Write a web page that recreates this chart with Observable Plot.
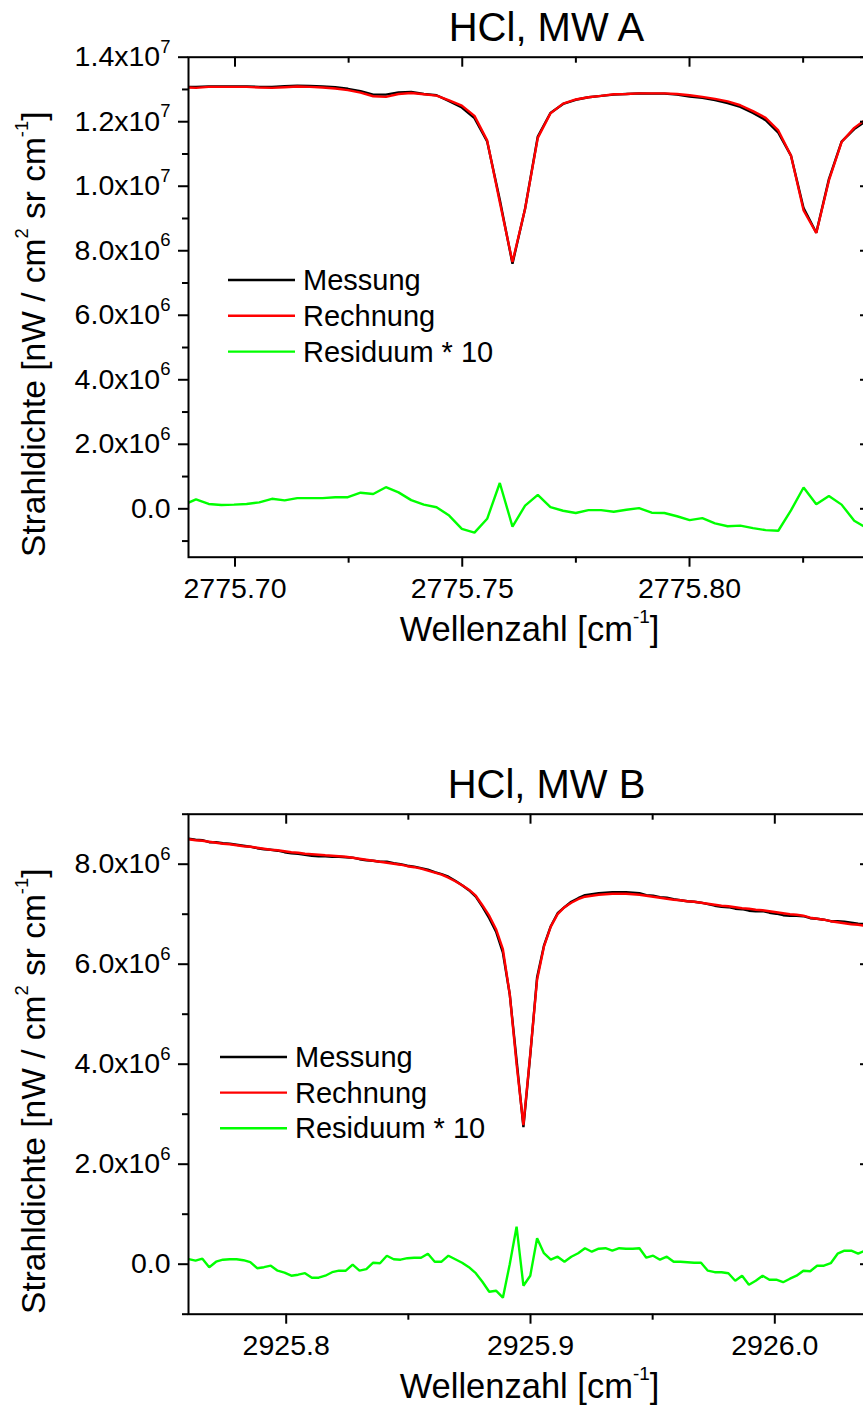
<!DOCTYPE html>
<html><head><meta charset="utf-8">
<script src="https://cdn.jsdelivr.net/npm/d3@7"></script>
<script src="https://cdn.jsdelivr.net/npm/@observablehq/plot@0.6"></script>
<style>
html,body{margin:0;padding:0;background:#fff;overflow:hidden;width:863px;height:1405px;}
#root{position:relative;width:863px;height:1405px;overflow:hidden;background:#fff;}
.panel{position:absolute;left:0;width:875px;}
.panel svg{max-width:none !important;}
#legend{position:absolute;left:0;top:0;pointer-events:none;}
</style></head><body><div id="root"></div>
<script>
const FONT = '"Liberation Sans", Arial, Helvetica, sans-serif';

// ---------- Panel A: HCl, MW A ----------
const titleA = "HCl, MW A";
const wavenumberA = [2775.68864, 2775.69142, 2775.69421, 2775.69699, 2775.69978, 2775.70256, 2775.70535, 2775.70813, 2775.71092, 2775.71370,
  2775.71649, 2775.71927, 2775.72206, 2775.72484, 2775.72763, 2775.73041, 2775.73320, 2775.73598, 2775.73877, 2775.74155,
  2775.74434, 2775.74712, 2775.74991, 2775.75269, 2775.75548, 2775.75826, 2775.76105, 2775.76383, 2775.76662, 2775.76940,
  2775.77219, 2775.77497, 2775.77776, 2775.78054, 2775.78333, 2775.78611, 2775.78890, 2775.79168, 2775.79447, 2775.79725,
  2775.80004, 2775.80282, 2775.80561, 2775.80839, 2775.81118, 2775.81396, 2775.81675, 2775.81953, 2775.82232, 2775.82510,
  2775.82789, 2775.83067, 2775.83346, 2775.83624, 2775.83903];
// values in units of 10^6 nW / (cm^2 sr cm^-1)
const messungA = [13.08, 13.08, 13.09, 13.09, 13.09, 13.09, 13.08, 13.08, 13.10, 13.12,
  13.11, 13.09, 13.07, 13.02, 12.95, 12.84, 12.84, 12.91, 12.92, 12.86,
  12.82, 12.64, 12.44, 12.11, 11.39, 9.58, 7.60, 9.31, 11.54, 12.27,
  12.55, 12.68, 12.76, 12.80, 12.84, 12.86, 12.88, 12.87, 12.87, 12.84,
  12.78, 12.74, 12.67, 12.58, 12.46, 12.27, 12.05, 11.66, 10.95, 9.32,
  8.56, 10.22, 11.38, 11.77, 12.04];
const rechnungA = [13.07, 13.05, 13.08, 13.08, 13.08, 13.08, 13.06, 13.05, 13.07, 13.09,
  13.08, 13.06, 13.03, 12.98, 12.90, 12.79, 12.77, 12.86, 12.89, 12.85,
  12.81, 12.66, 12.50, 12.18, 11.42, 9.50, 7.65, 9.30, 11.50, 12.26,
  12.56, 12.69, 12.76, 12.80, 12.85, 12.86, 12.88, 12.88, 12.88, 12.86,
  12.82, 12.77, 12.71, 12.63, 12.51, 12.33, 12.12, 11.73, 10.95, 9.25,
  8.55, 10.18, 11.37, 11.81, 12.10];
const residuumA = [0.12, 0.29, 0.15, 0.12, 0.13, 0.15, 0.20, 0.31, 0.26, 0.33,
  0.33, 0.33, 0.36, 0.36, 0.50, 0.46, 0.67, 0.51, 0.27, 0.13,
  0.05, -0.21, -0.62, -0.74, -0.31, 0.80, -0.55, 0.10, 0.43, 0.05,
  -0.06, -0.13, -0.04, -0.04, -0.09, -0.03, 0.02, -0.12, -0.13, -0.23,
  -0.35, -0.29, -0.45, -0.54, -0.52, -0.60, -0.66, -0.68, -0.05, 0.66,
  0.14, 0.40, 0.13, -0.37, -0.60];
const xDomainA = [2775.68977, 2775.83982];
const yDomainA = [-1.5e6, 1.4e7];
const yTicksA = [0, 2e6, 4e6, 6e6, 8e6, 1e7, 1.2e7, 1.4e7];
const yTickLabelsA = ["0.0", "2.0x10^{6}", "4.0x10^{6}", "6.0x10^{6}", "8.0x10^{6}", "1.0x10^{7}", "1.2x10^{7}", "1.4x10^{7}"];
const yMinorA = [-1e6, 1e6, 3e6, 5e6, 7e6, 9e6, 1.1e7, 1.3e7];
const xTicksA = [2775.70, 2775.75, 2775.80];
const xTickLabelsA = ["2775.70", "2775.75", "2775.80"];
const xMinorA = [2775.725, 2775.775, 2775.825];

// ---------- Panel B: HCl, MW B ----------
const titleB = "HCl, MW B";
const wavenumberB = [2925.7601, 2925.7629, 2925.7657, 2925.7685, 2925.7713, 2925.7741, 2925.7769, 2925.7797, 2925.7825, 2925.7853,
  2925.7881, 2925.7909, 2925.7937, 2925.7965, 2925.7993, 2925.8021, 2925.8049, 2925.8077, 2925.8105, 2925.8133,
  2925.8160, 2925.8188, 2925.8216, 2925.8244, 2925.8272, 2925.8300, 2925.8328, 2925.8356, 2925.8384, 2925.8412,
  2925.8440, 2925.8468, 2925.8496, 2925.8524, 2925.8552, 2925.8580, 2925.8608, 2925.8636, 2925.8664, 2925.8692,
  2925.8720, 2925.8748, 2925.8776, 2925.8803, 2925.8831, 2925.8859, 2925.8887, 2925.8915, 2925.8943, 2925.8971,
  2925.8999, 2925.9027, 2925.9055, 2925.9083, 2925.9111, 2925.9139, 2925.9167, 2925.9195, 2925.9223, 2925.9251,
  2925.9279, 2925.9307, 2925.9335, 2925.9363, 2925.9391, 2925.9419, 2925.9446, 2925.9474, 2925.9502, 2925.9530,
  2925.9558, 2925.9586, 2925.9614, 2925.9642, 2925.9670, 2925.9698, 2925.9726, 2925.9754, 2925.9782, 2925.9810,
  2925.9838, 2925.9866, 2925.9894, 2925.9922, 2925.9950, 2925.9978, 2926.0006, 2926.0034, 2926.0062, 2926.0089,
  2926.0117, 2926.0145, 2926.0173, 2926.0201, 2926.0229, 2926.0257, 2926.0285, 2926.0313, 2926.0341, 2926.0369];
const messungB = [8.51, 8.49, 8.48, 8.44, 8.44, 8.42, 8.41, 8.39, 8.37, 8.35,
  8.32, 8.30, 8.29, 8.27, 8.24, 8.22, 8.21, 8.19, 8.17, 8.16,
  8.16, 8.15, 8.15, 8.14, 8.13, 8.10, 8.08, 8.07, 8.05, 8.05,
  8.02, 8.00, 7.97, 7.95, 7.92, 7.89, 7.84, 7.80, 7.75, 7.67,
  7.58, 7.48, 7.35, 7.15, 6.92, 6.65, 6.23, 5.40, 4.08, 2.74,
  4.18, 5.74, 6.37, 6.76, 7.02, 7.14, 7.25, 7.32, 7.38, 7.40,
  7.42, 7.43, 7.44, 7.44, 7.44, 7.43, 7.42, 7.38, 7.37, 7.34,
  7.33, 7.30, 7.28, 7.26, 7.25, 7.23, 7.20, 7.17, 7.15, 7.14,
  7.11, 7.10, 7.07, 7.06, 7.06, 7.03, 7.01, 6.98, 6.97, 6.97,
  6.96, 6.92, 6.91, 6.89, 6.86, 6.86, 6.85, 6.83, 6.81, 6.80];
const rechnungB = [8.50, 8.48, 8.47, 8.45, 8.43, 8.41, 8.40, 8.38, 8.36, 8.35,
  8.33, 8.31, 8.29, 8.28, 8.26, 8.24, 8.23, 8.21, 8.20, 8.19,
  8.18, 8.17, 8.16, 8.15, 8.13, 8.11, 8.09, 8.07, 8.05, 8.03,
  8.01, 7.99, 7.96, 7.94, 7.91, 7.87, 7.83, 7.79, 7.73, 7.66,
  7.58, 7.49, 7.37, 7.18, 6.97, 6.70, 6.30, 5.40, 4.00, 2.78,
  4.20, 5.69, 6.35, 6.75, 7.00, 7.14, 7.23, 7.30, 7.35, 7.37,
  7.39, 7.40, 7.41, 7.41, 7.41, 7.40, 7.39, 7.37, 7.35, 7.33,
  7.31, 7.29, 7.28, 7.26, 7.25, 7.23, 7.21, 7.19, 7.17, 7.16,
  7.14, 7.12, 7.11, 7.09, 7.08, 7.06, 7.04, 7.02, 7.00, 6.99,
  6.97, 6.93, 6.91, 6.89, 6.86, 6.84, 6.82, 6.80, 6.79, 6.77];
const residuumB = [0.10, 0.07, 0.11, -0.06, 0.05, 0.09, 0.10, 0.10, 0.08, 0.04,
  -0.08, -0.06, -0.03, -0.13, -0.17, -0.23, -0.21, -0.18, -0.27, -0.27,
  -0.23, -0.16, -0.13, -0.13, -0.01, -0.13, -0.10, 0.03, 0.02, 0.17,
  0.10, 0.09, 0.12, 0.13, 0.13, 0.21, 0.05, 0.05, 0.17, 0.10,
  0.03, -0.06, -0.18, -0.35, -0.55, -0.53, -0.67, 0.00, 0.75, -0.43,
  -0.23, 0.52, 0.22, 0.09, 0.15, 0.05, 0.15, 0.22, 0.32, 0.25,
  0.31, 0.32, 0.27, 0.32, 0.31, 0.31, 0.32, 0.13, 0.17, 0.09,
  0.15, 0.05, 0.05, 0.04, 0.03, 0.03, -0.13, -0.16, -0.16, -0.18,
  -0.33, -0.23, -0.41, -0.33, -0.23, -0.31, -0.31, -0.36, -0.29, -0.23,
  -0.13, -0.14, -0.03, -0.03, 0.02, 0.21, 0.27, 0.27, 0.21, 0.27];
const xDomainB = [2925.76001, 2926.03917];
const yDomainB = [-1e6, 9e6];
const yTicksB = [0, 2e6, 4e6, 6e6, 8e6];
const yTickLabelsB = ["0.0", "2.0x10^{6}", "4.0x10^{6}", "6.0x10^{6}", "8.0x10^{6}"];
const yMinorB = [-1e6, 1e6, 3e6, 5e6, 7e6, 9e6];
const xTicksB = [2925.8, 2925.9, 2926.0];
const xTickLabelsB = ["2925.8", "2925.9", "2926.0"];
const xMinorB = [2925.85, 2925.95];

const seriesLabels = ["Messung", "Rechnung", "Residuum * 10"];
const seriesColors = ["#000000", "#ff0000", "#00ff00"];
const yLabel = "Strahldichte [nW / cm^{2} sr cm^{-1}]";
const xLabel = "Wellenzahl [cm^{-1}]";

// ---------- helpers ----------
function supify(svg) {
  svg.querySelectorAll("text").forEach(t => {
    const s = t.textContent;
    if (!s.includes("^{")) return;
    const F = parseFloat(getComputedStyle(t).fontSize) || 28;
    const big = F > 30;
    const supSize = big ? 0.55 * F : 0.65 * F;
    const raise = big ? 0.52 * F : 0.48 * F;
    const parts = s.split(/(\^\{[^}]*\})/);
    t.textContent = "";
    let raised = false;
    for (const p of parts) {
      if (!p) continue;
      const ts = document.createElementNS("http://www.w3.org/2000/svg", "tspan");
      if (p.startsWith("^{")) {
        ts.textContent = p.slice(2, -1);
        ts.setAttribute("font-size", supSize);
        ts.setAttribute("dy", -raise);
        raised = true;
      } else {
        ts.textContent = p;
        if (raised) { ts.setAttribute("dy", raise); raised = false; }
      }
      t.appendChild(ts);
    }
  });
}

const W = 875, H = 648, ML = 188, MR = 5, MT = 56.7, MB = 91.3;
const FW = W - ML - MR, FH = H - MT - MB;
const TICK_FS = 28.5;

function makePanel(cfg) {
  const table = cfg.x.map((x, i) => ({x, mess: cfg.mess[i] * 1e6, rech: cfg.rech[i] * 1e6, res: cfg.res[i] * 1e6}));
  const lineOpts = {x: "x", strokeWidth: 2.4, strokeLinejoin: "miter", clip: true};
  return Plot.plot({
    width: W, height: H,
    marginLeft: ML, marginRight: MR, marginTop: MT, marginBottom: MB,
    x: {domain: cfg.xDomain},
    y: {domain: cfg.yDomain},
    style: {fontFamily: FONT, fontSize: TICK_FS + "px", color: "black", background: "white",
      overflow: "visible", maxWidth: "none", width: W + "px", height: H + "px"},
    marks: [
      Plot.line(table, {...lineOpts, y: "mess", stroke: seriesColors[0]}),
      Plot.line(table, {...lineOpts, y: "rech", stroke: seriesColors[1]}),
      Plot.line(table, {...lineOpts, y: "res", stroke: seriesColors[2]}),
      Plot.frame({stroke: "black", strokeWidth: 2}),
      Plot.axisY(cfg.yTicks, {anchor: "left", tickSize: 10, tickPadding: 8, strokeWidth: 2, fontSize: TICK_FS,
        tickFormat: d => cfg.yTickLabels[cfg.yTicks.indexOf(d)], label: null}),
      Plot.axisY(cfg.yMinor, {anchor: "left", tickSize: 6, strokeWidth: 2, tickFormat: () => "", label: null}),
      Plot.tickY(cfg.yTicks, {y: d => d, insetLeft: FW - 10, strokeWidth: 2}),
      Plot.tickY(cfg.yMinor, {y: d => d, insetLeft: FW - 6, strokeWidth: 2}),
      Plot.axisX(cfg.xTicks, {anchor: "bottom", tickSize: 10, tickPadding: 11, strokeWidth: 2, fontSize: TICK_FS,
        tickFormat: d => cfg.xTickLabels[cfg.xTicks.indexOf(d)], label: null}),
      Plot.axisX(cfg.xMinor, {anchor: "bottom", tickSize: 6, strokeWidth: 2, tickFormat: () => "", label: null}),
      Plot.tickX(cfg.xTicks, {x: d => d, insetBottom: FH - 10, strokeWidth: 2}),
      Plot.tickX(cfg.xMinor, {x: d => d, insetBottom: FH - 6, strokeWidth: 2}),
      Plot.text([cfg.title], {frameAnchor: "top", textAnchor: "middle", lineAnchor: "middle",
        dx: 17, dy: -28.7, fontSize: 40, fill: "black"}),
      Plot.text([yLabel], {frameAnchor: "left", textAnchor: "middle", lineAnchor: "middle", rotate: -90,
        dx: -154.3, dy: 27, fontSize: 33.5, fill: "black"}),
      Plot.text([xLabel], {frameAnchor: "bottom", textAnchor: "middle", lineAnchor: "middle",
        dy: 73, fontSize: 34.5, fill: "black"})
    ]
  });
}

const root = document.getElementById("root");
const panels = [
  {top: 0, title: titleA, x: wavenumberA, mess: messungA, rech: rechnungA, res: residuumA,
   xDomain: xDomainA, yDomain: yDomainA, yTicks: yTicksA, yTickLabels: yTickLabelsA, yMinor: yMinorA,
   xTicks: xTicksA, xTickLabels: xTickLabelsA, xMinor: xMinorA},
  {top: 756.6, title: titleB, x: wavenumberB, mess: messungB, rech: rechnungB, res: residuumB,
   xDomain: xDomainB, yDomain: yDomainB, yTicks: yTicksB, yTickLabels: yTickLabelsB, yMinor: yMinorB,
   xTicks: xTicksB, xTickLabels: xTickLabelsB, xMinor: xMinorB}
];
for (const p of panels) {
  const div = document.createElement("div");
  div.className = "panel";
  div.style.top = p.top + "px";
  const svg = makePanel(p);
  div.appendChild(svg);
  root.appendChild(div);
  supify(svg);
}

// ---------- legends ----------
const leg = d3.select(root).append("svg").attr("id", "legend").attr("width", 863).attr("height", 1405);
const legendBoxes = [{x1: 228, x2: 295, y0: 280, step: 35.8, tx: 303}, {x1: 220, x2: 287, y0: 1057, step: 35.65, tx: 295}];
for (const b of legendBoxes) {
  seriesLabels.forEach((lab, i) => {
    const y = b.y0 + i * b.step;
    leg.append("line").attr("x1", b.x1).attr("x2", b.x2).attr("y1", y).attr("y2", y)
      .attr("stroke", seriesColors[i]).attr("stroke-width", 2.4);
    leg.append("text").attr("x", b.tx).attr("y", y + 10).attr("font-family", FONT).attr("font-size", 29)
      .attr("fill", "black").text(lab);
  });
}
</script></body></html>
